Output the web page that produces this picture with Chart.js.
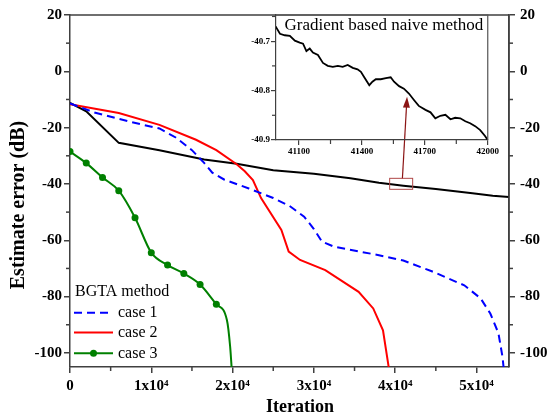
<!DOCTYPE html>
<html lang="en">
<head>
<meta charset="UTF-8">
<title>Estimate error vs iteration</title>
<script src="https://cdn.jsdelivr.net/npm/chart.js"></script>
<style>
  html, body { margin: 0; padding: 0; background: #fff; }
  .wrap { position: relative; width: 549px; height: 417px; }
  #mainChart { position: absolute; left: 0; top: 0; }
  #insetChart { position: absolute; left: 240px; top: 5px; }
</style>
</head>
<body>
<div class="wrap">
  <canvas id="mainChart" width="549" height="417"></canvas>
  <canvas id="insetChart" width="260" height="155"></canvas>
</div>
<script>
// BGTA method, case 1 (blue dashed)
const case1X = [0, 3000, 6000, 9000, 11000, 13000, 15000, 16500, 17500, 19000, 22000, 25000, 27000, 28800,
                30000, 31000, 32500, 38000, 41000, 44500, 48500, 50500, 51700, 52700, 53200, 53400];
const case1Y = [-11.4, -14.6, -16.9, -19.0, -20.3, -23.5, -28.0, -32.5, -36.0, -38.5, -41.6, -45.0, -47.8, -51.6,
                -56.0, -60.5, -62.3, -65.3, -67.2, -71.0, -76.0, -80.6, -86.0, -93.0, -101.4, -107];

// BGTA method, case 2 (red)
const case2X = [0, 6000, 11000, 15500, 18000, 20500, 21500, 22500, 23500, 26000, 26900, 28300, 31400, 35500, 37300, 38500, 39200, 39250];
const case2Y = [-11.7, -14.8, -19.0, -24.3, -28.0, -33.0, -35.5, -38.6, -45.0, -56.3, -64.0, -67.0, -70.6, -78.3, -84.2, -92.0, -105, -107];

// BGTA method, case 3 (green with markers every 2000 iterations)
const case3X = [0, 2000, 4000, 6000, 8000, 10000, 12000, 14000, 16000, 18000, 19300, 19700, 19900];
const case3Y = [-28.5, -32.6, -37.7, -42.4, -52.0, -64.4, -68.8, -71.8, -75.7, -82.7, -88.3, -97.8, -106];
const case3Marked = 10; // first ten points carry a marker

// gradient based naive method (black)
const naiveX = [0, 2000, 6000, 11000, 16500, 20500, 25000, 30000, 34500, 38000, 41000, 45000, 49500, 52000, 54000];
const naiveY = [-11.2, -14.2, -25.4, -28.0, -31.3, -32.8, -35.1, -36.4, -38.0, -39.6, -40.6, -41.8, -43.3, -44.2, -44.6];

// naive method, zoomed window 41000..42000
const zoomX = [40988, 41009, 41032, 41056, 41080, 41103, 41119, 41135, 41151, 41166, 41190, 41214, 41237, 41261,
               41285, 41308, 41332, 41356, 41379, 41395, 41411, 41435, 41450, 41466, 41490, 41514, 41537, 41553,
               41577, 41600, 41624, 41648, 41671, 41703, 41727, 41750, 41774, 41798, 41822, 41845, 41869, 41893,
               41916, 41940, 41964, 41987, 42000];
const zoomY = [-40.670, -40.685, -40.688, -40.689, -40.699, -40.703, -40.705, -40.720, -40.715, -40.723, -40.728,
               -40.744, -40.750, -40.752, -40.750, -40.752, -40.748, -40.754, -40.757, -40.762, -40.773, -40.789,
               -40.782, -40.777, -40.777, -40.775, -40.773, -40.782, -40.791, -40.796, -40.806, -40.819, -40.831,
               -40.839, -40.844, -40.856, -40.851, -40.849, -40.858, -40.855, -40.856, -40.862, -40.866, -40.872,
               -40.880, -40.892, -40.900];

// axis ranges and labelled tick values
const xRange = [0, 54000];
const yRange = [-105, 20];
const xTicks = [0, 10000, 20000, 30000, 40000, 50000];
const yTicks = [-100, -80, -60, -40, -20, 0, 20];
const zoomXRange = [40990, 42000];
const zoomYRange = [-40.9, -40.647];
const zoomXTicks = [41100, 41400, 41700, 42000];
const zoomYTicks = [-40.9, -40.8, -40.7];

// box marking the zoomed window and the arrow to the inset
const zoomBox = { x0: 39320, x1: 42150, y0: -38.0, y1: -41.9 };
const arrowFrom = { x: 40890, y: -38.0 };
const arrowTo = { x: 41460, y: -9.0 };

const SERIF = "'Liberation Serif', 'Times New Roman', serif";
const AXIS = '#404040';

function pts(xs, ys) {
    return xs.map((x, i) => ({ x: x, y: ys[i] }));
}

function fixedTicks(values) {
    return s => { s.ticks = values.map(v => ({ value: v })); };
}

// short unlabelled ticks half way between the labelled ones
const minorTicks = {
    id: 'minorTicks',
    afterDraw(chart, args, opts) {
        const ctx = chart.ctx;
        ctx.save();
        ctx.strokeStyle = AXIS;
        ctx.lineWidth = opts.width || 1.5;
        for (const id in opts.steps) {
            const s = chart.scales[id];
            const step = opts.steps[id];
            const k0 = Math.ceil(s.min / step - 1e-6), k1 = Math.floor(s.max / step + 1e-6);
            for (let k = k0; k <= k1; k++) {
                if (k % 2 === 0) continue;
                const p = s.getPixelForValue(k * step);
                ctx.beginPath();
                if (s.position === 'bottom') { ctx.moveTo(p, s.top); ctx.lineTo(p, s.top + 4); }
                else if (s.position === 'left') { ctx.moveTo(s.right, p); ctx.lineTo(s.right - 4, p); }
                else { ctx.moveTo(s.left, p); ctx.lineTo(s.left + 4, p); }
                ctx.stroke();
            }
        }
        ctx.restore();
    }
};

// plot frame: top and right edges
const frame = {
    id: 'frame',
    afterDraw(chart, args, opts) {
        const a = chart.chartArea, ctx = chart.ctx;
        ctx.save();
        ctx.strokeStyle = opts.color || AXIS;
        ctx.lineWidth = opts.width || 1.5;
        ctx.beginPath();
        ctx.moveTo(a.left, a.top); ctx.lineTo(a.right, a.top); ctx.lineTo(a.right, a.bottom);
        ctx.stroke();
        ctx.restore();
    }
};

// axis titles at fixed spots
const axisTitles = {
    id: 'axisTitles',
    afterDraw(chart) {
        const ctx = chart.ctx;
        ctx.save();
        ctx.fillStyle = '#000';
        ctx.textAlign = 'center';
        ctx.textBaseline = 'middle';
        ctx.font = 'bold 18px ' + SERIF;
        ctx.fillText('Iteration', 300, 407);
        ctx.translate(19, 205);
        ctx.rotate(-Math.PI / 2);
        ctx.font = 'bold 20px ' + SERIF;
        ctx.fillText('Estimate error (dB)', 0, 0);
        ctx.restore();
    }
};

// legend in the lower left corner and the zoom marker
const overlay = {
    id: 'overlay',
    afterDatasetsDraw(chart) {
        const ctx = chart.ctx;
        const xs = chart.scales.x, ys = chart.scales.y;
        ctx.save();

        // legend
        ctx.fillStyle = '#000';
        ctx.font = '16px ' + SERIF;
        ctx.textAlign = 'left';
        ctx.textBaseline = 'middle';
        ctx.fillText('BGTA method', 75, 292);
        const rows = [312.7, 332.5, 353.3];
        for (let i = 0; i < 3; i++) {
            const ds = chart.data.datasets[i];
            const y = rows[i];
            ctx.strokeStyle = ds.borderColor;
            ctx.lineWidth = ds.borderWidth;
            ctx.setLineDash(ds.borderDash || []);
            ctx.beginPath();
            ctx.moveTo(74, y); ctx.lineTo(113, y);
            ctx.stroke();
            ctx.setLineDash([]);
            if (ds.legendMarker) {
                ctx.fillStyle = ds.borderColor;
                ctx.beginPath();
                ctx.arc(93.5, y, 3.5, 0, Math.PI * 2);
                ctx.fill();
            }
            ctx.fillStyle = '#000';
            ctx.fillText(ds.label, 118, y);
        }

        // box around the zoomed window
        const bx0 = xs.getPixelForValue(zoomBox.x0), bx1 = xs.getPixelForValue(zoomBox.x1);
        const by0 = ys.getPixelForValue(zoomBox.y0), by1 = ys.getPixelForValue(zoomBox.y1);
        ctx.strokeStyle = '#b04848';
        ctx.lineWidth = 1;
        ctx.strokeRect(bx0, by0, bx1 - bx0, by1 - by0);

        // arrow up into the inset
        const ax0 = xs.getPixelForValue(arrowFrom.x), ay0 = ys.getPixelForValue(arrowFrom.y);
        const ax1 = xs.getPixelForValue(arrowTo.x), ay1 = ys.getPixelForValue(arrowTo.y);
        const ang = Math.atan2(ay1 - ay0, ax1 - ax0);
        const c = Math.cos(ang), s = Math.sin(ang);
        ctx.strokeStyle = '#8b1414';
        ctx.fillStyle = '#8b1414';
        ctx.lineWidth = 1.2;
        ctx.beginPath();
        ctx.moveTo(ax0, ay0);
        ctx.lineTo(ax1 - 8 * c, ay1 - 8 * s);
        ctx.stroke();
        ctx.beginPath();
        ctx.moveTo(ax1, ay1);
        ctx.lineTo(ax1 - 11 * c + 3.5 * s, ay1 - 11 * s - 3.5 * c);
        ctx.lineTo(ax1 - 11 * c - 3.5 * s, ay1 - 11 * s + 3.5 * c);
        ctx.closePath();
        ctx.fill();
        ctx.restore();
    }
};

const tickFont = { family: SERIF, size: 15, weight: 'bold' };

new Chart(document.getElementById('mainChart'), {
    type: 'line',
    data: {
        datasets: [
            {
                label: 'case 1',
                data: pts(case1X, case1Y),
                borderColor: '#0000ff',
                borderWidth: 2,
                borderDash: [8, 5],
                pointRadius: 0,
                tension: 0
            },
            {
                label: 'case 2',
                data: pts(case2X, case2Y),
                borderColor: '#ff0000',
                borderWidth: 2,
                pointRadius: 0,
                tension: 0
            },
            {
                label: 'case 3',
                data: pts(case3X, case3Y),
                borderColor: '#008000',
                backgroundColor: '#008000',
                borderWidth: 2,
                pointRadius: case3X.map((x, i) => i < case3Marked ? 3.5 : 0),
                pointBorderWidth: 0,
                cubicInterpolationMode: 'monotone',
                legendMarker: true
            },
            {
                label: 'Gradient based naive method',
                data: pts(naiveX, naiveY),
                borderColor: '#000000',
                borderWidth: 2,
                pointRadius: 0,
                tension: 0
            }
        ]
    },
    options: {
        responsive: false,
        animation: false,
        devicePixelRatio: 1,
        layout: { padding: { top: 15 } },
        plugins: {
            legend: { display: false },
            tooltip: { enabled: false },
            minorTicks: { steps: { x: 5000, y: 10, y2: 10 } }
        },
        scales: {
            x: {
                type: 'linear',
                min: xRange[0], max: xRange[1],
                afterBuildTicks: fixedTicks(xTicks),
                afterFit: s => { s.height = 50; },
                border: { color: AXIS, width: 1.5 },
                grid: { drawOnChartArea: false, tickLength: 6, color: AXIS, lineWidth: 1.5 },
                ticks: {
                    maxRotation: 0, autoSkip: false, padding: 4,
                    color: '#000', font: tickFont,
                    callback: v => v === 0 ? '0' : (v / 1e4) + 'x10\u2074'
                }
            },
            y: {
                min: yRange[0], max: yRange[1],
                afterBuildTicks: fixedTicks(yTicks),
                afterFit: s => { s.width = 70; },
                border: { color: AXIS, width: 1.5 },
                grid: { drawOnChartArea: false, tickLength: 6, color: AXIS, lineWidth: 1.5 },
                ticks: { autoSkip: false, padding: 2, color: '#000', font: tickFont }
            },
            y2: {
                position: 'right',
                min: yRange[0], max: yRange[1],
                afterBuildTicks: fixedTicks(yTicks),
                afterFit: s => { s.width = 40; },
                border: { color: AXIS, width: 1.5 },
                grid: { drawOnChartArea: false, tickLength: 6, color: AXIS, lineWidth: 1.5 },
                ticks: { autoSkip: false, padding: 5, color: '#000', font: tickFont }
            }
        }
    },
    plugins: [minorTicks, frame, axisTitles, overlay]
});

// inset: the naive method between 41000 and 42000 iterations
const insetTitle = {
    id: 'insetTitle',
    afterDraw(chart) {
        const a = chart.chartArea, ctx = chart.ctx;
        ctx.save();
        ctx.fillStyle = '#000';
        ctx.font = '17px ' + SERIF;
        ctx.textAlign = 'center';
        ctx.textBaseline = 'middle';
        ctx.fillText('Gradient based naive method', (a.left + a.right) / 2 + 2, a.top + 11);
        ctx.restore();
    }
};

const insetTickFont = { family: SERIF, size: 9, weight: 'bold' };

new Chart(document.getElementById('insetChart'), {
    type: 'line',
    data: {
        datasets: [{
            label: 'Gradient based naive method',
            data: pts(zoomX, zoomY),
            borderColor: '#000',
            borderWidth: 1.8,
            pointRadius: 0,
            tension: 0
        }]
    },
    options: {
        responsive: false,
        animation: false,
        devicePixelRatio: 1,
        layout: { padding: { top: 10, right: 9 } },
        plugins: {
            legend: { display: false },
            tooltip: { enabled: false },
            minorTicks: { steps: { x: 150, y: 0.05 }, width: 1.2 },
            frame: { color: '#555', width: 1.2 }
        },
        scales: {
            x: {
                type: 'linear',
                min: zoomXRange[0], max: zoomXRange[1],
                afterBuildTicks: fixedTicks(zoomXTicks),
                afterFit: s => { s.height = 20; },
                border: { color: AXIS, width: 1.2 },
                grid: { drawOnChartArea: false, tickLength: 5, color: AXIS, lineWidth: 1.2 },
                ticks: { autoSkip: false, maxRotation: 0, padding: 1, color: '#000', font: insetTickFont,
                         callback: v => String(v) }
            },
            y: {
                min: zoomYRange[0], max: zoomYRange[1],
                afterBuildTicks: fixedTicks(zoomYTicks),
                afterFit: s => { s.width = 36; },
                border: { color: AXIS, width: 1.2 },
                grid: { drawOnChartArea: false, tickLength: 5, color: AXIS, lineWidth: 1.2 },
                ticks: { autoSkip: false, padding: 1, color: '#000', font: insetTickFont,
                         callback: v => v.toFixed(1) }
            }
        }
    },
    plugins: [minorTicks, frame, insetTitle]
});
</script>
</body>
</html>
